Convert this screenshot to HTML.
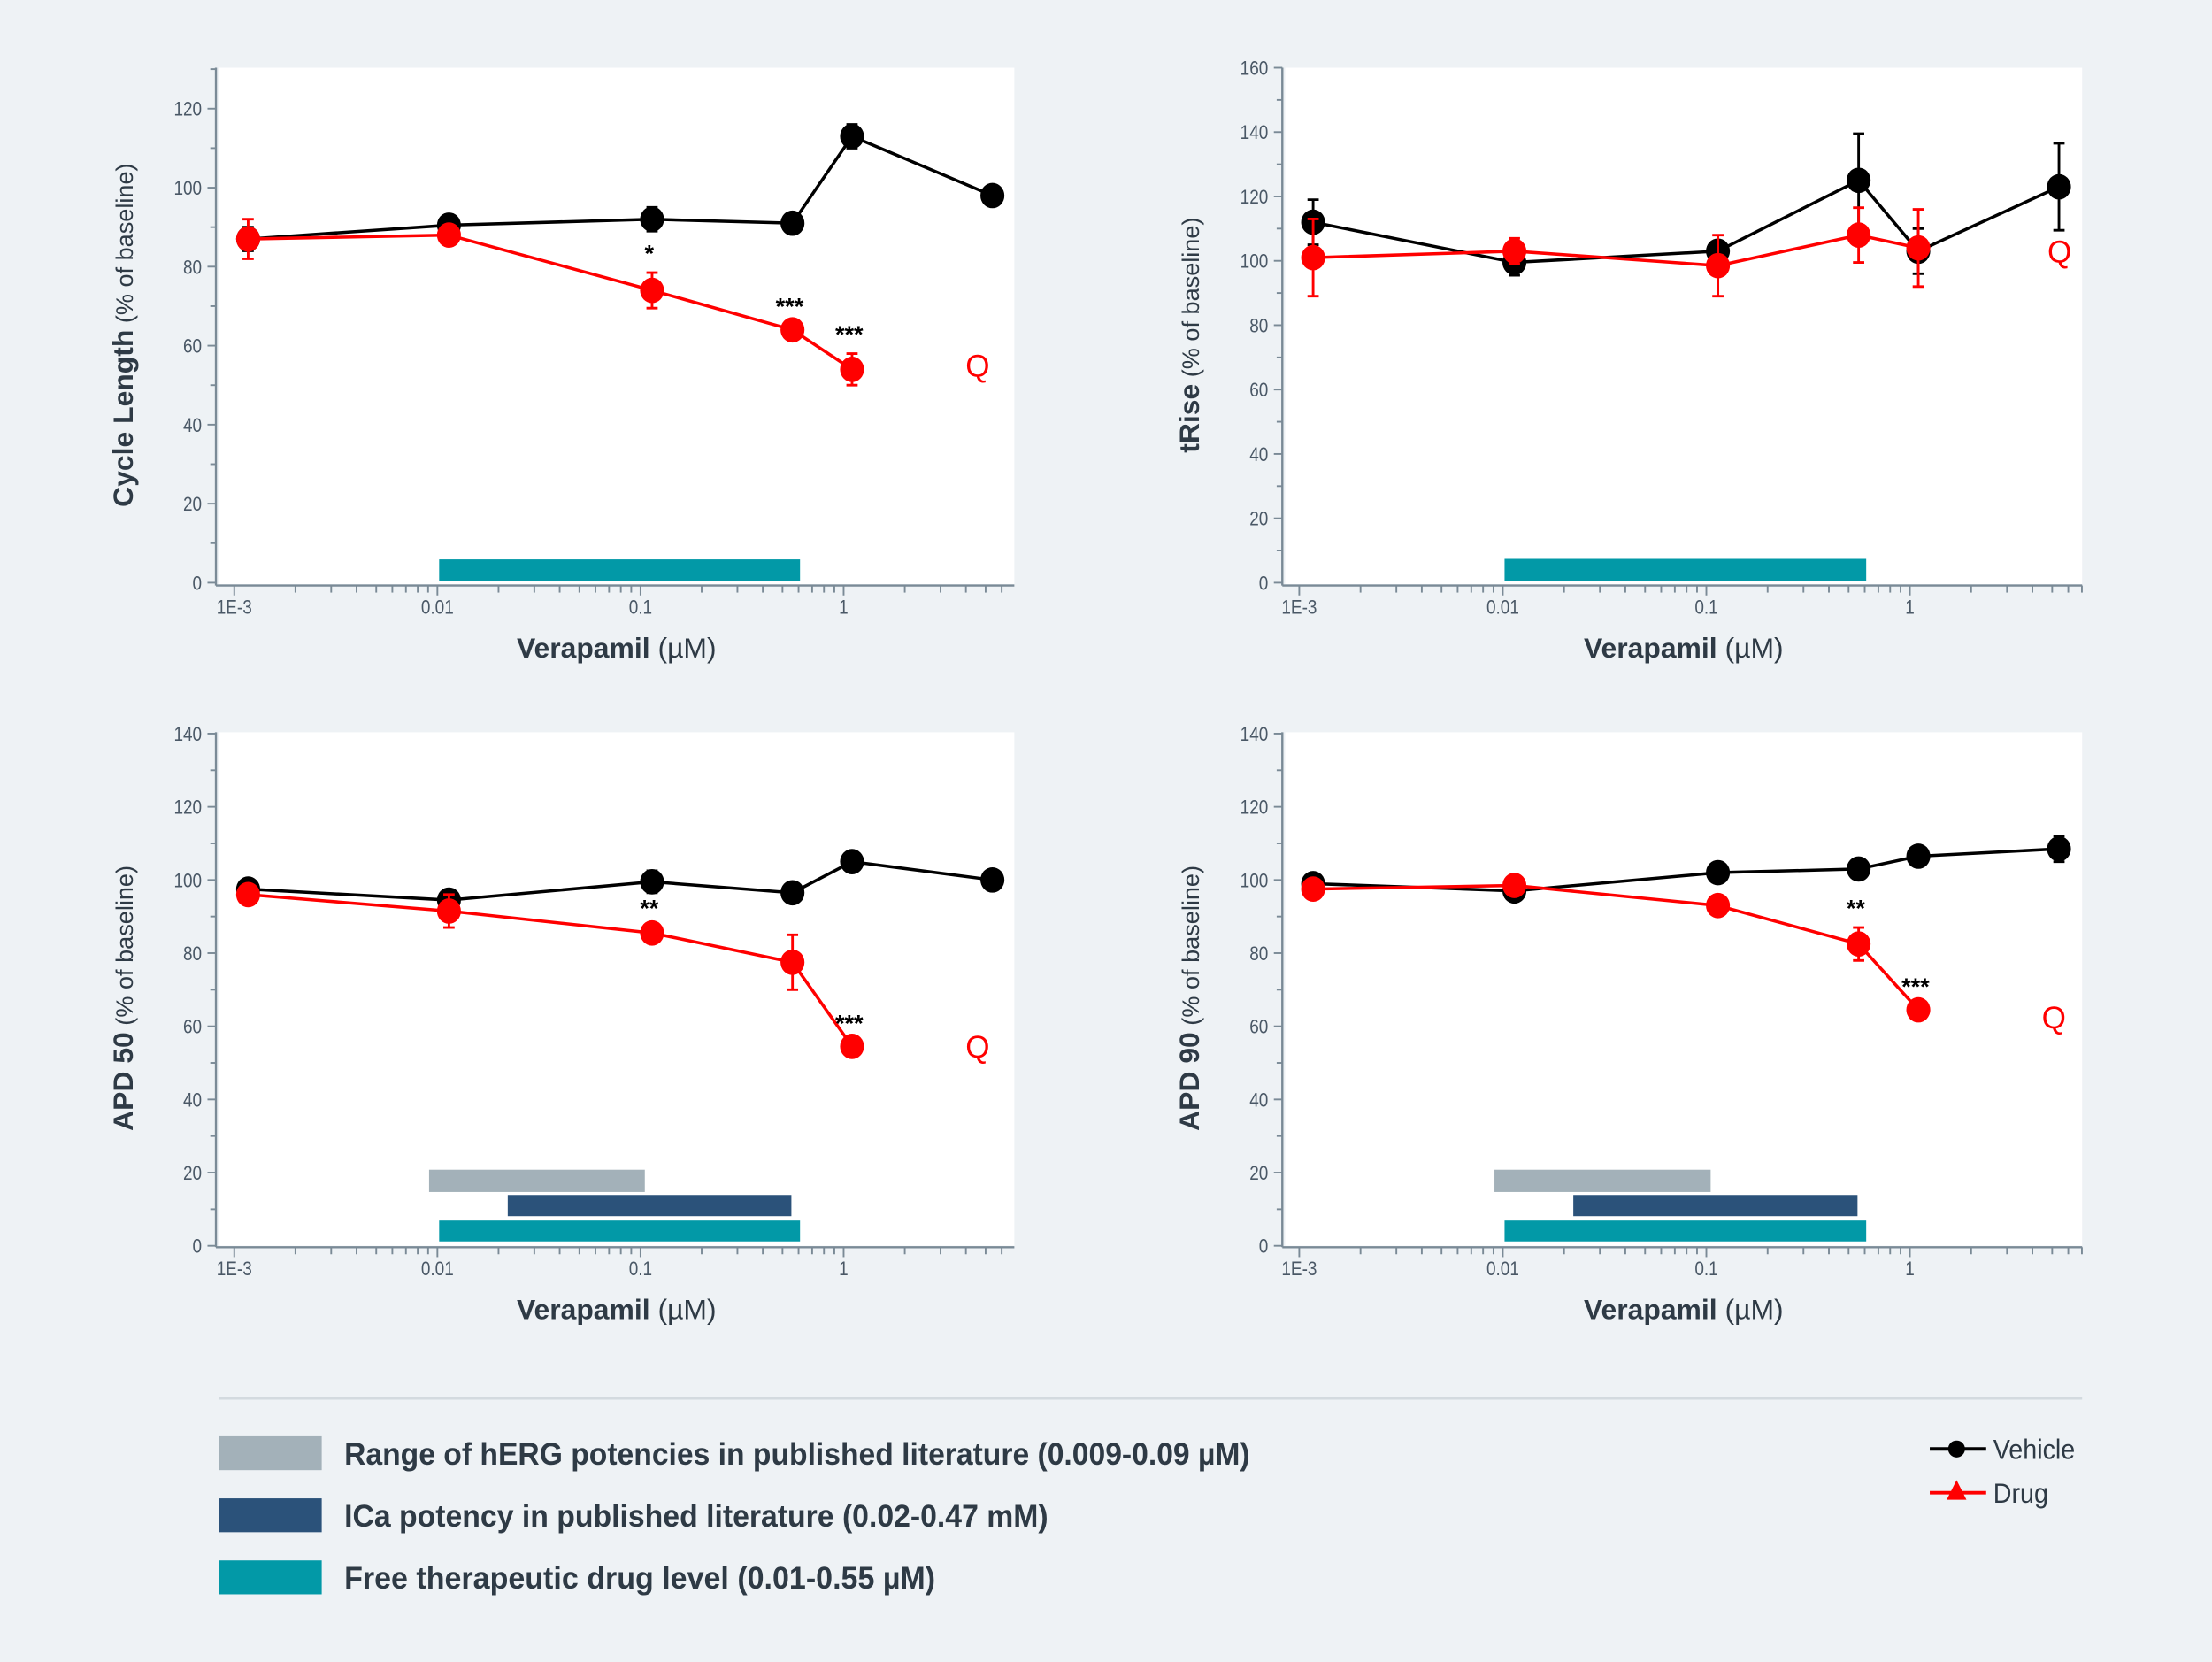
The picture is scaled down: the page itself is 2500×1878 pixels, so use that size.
<!DOCTYPE html>
<html><head><meta charset="utf-8"><style>
html,body{margin:0;padding:0;background:#eef2f5;}
svg{display:block;}
text{font-family:"Liberation Sans Narrow","Liberation Sans",sans-serif;}
</style></head>
<body>
<svg id="chart" width="2500" height="1878" viewBox="0 0 1568 1178" xmlns="http://www.w3.org/2000/svg">
<rect x="0" y="0" width="1568" height="1178" fill="#eef2f5"/>
<g id="panels"></g>
<g id="legend">
  <line x1="155" y1="991" x2="1476" y2="991" stroke="#d3dadf" stroke-width="2"/>
  <rect x="155" y="1018" width="73" height="24" fill="#a3b1b9"/>
  <text x="244" y="1038" font-size="22" font-weight="bold" fill="#2e3a45" textLength="642" lengthAdjust="spacingAndGlyphs">Range of hERG potencies in published literature (0.009-0.09 µM)</text>
  <rect x="155" y="1062" width="73" height="24" fill="#2b527a"/>
  <text x="244" y="1082" font-size="22" font-weight="bold" fill="#2e3a45" textLength="499" lengthAdjust="spacingAndGlyphs">ICa potency in published literature (0.02-0.47 mM)</text>
  <rect x="155" y="1106" width="73" height="24" fill="#0299a7"/>
  <text x="244" y="1126" font-size="22" font-weight="bold" fill="#2e3a45" textLength="419" lengthAdjust="spacingAndGlyphs">Free therapeutic drug level (0.01-0.55 µM)</text>
  <line x1="1368" y1="1027" x2="1408" y2="1027" stroke="#000" stroke-width="2.5"/>
  <circle cx="1387" cy="1027" r="6" fill="#000"/>
  <text x="1413" y="1034" font-size="20" fill="#2e3a45" textLength="58" lengthAdjust="spacingAndGlyphs">Vehicle</text>
  <line x1="1368" y1="1058" x2="1408" y2="1058" stroke="#ff0000" stroke-width="2.5"/>
  <polygon points="1387,1049 1394,1063 1380,1063" fill="#ff0000"/>
  <text x="1413" y="1065" font-size="20" fill="#2e3a45" textLength="39" lengthAdjust="spacingAndGlyphs">Drug</text>
</g>
</svg>
<script>
// concentrations (µM)
const concVehicle = [0.00117, 0.0114, 0.114, 0.56, 1.1, 5.4];
const concDrug = [0.00117, 0.0114, 0.114, 0.56, 1.1];
const xTickValues = [0.001, 0.01, 0.1, 1];
const xTickLabels = ["1E-3", "0.01", "0.1", "1"];

// Cycle length
const clVehicle = [87, 90.5, 92, 91, 113, 98];
const clVehicleErr = [3, 1, 3, 0.5, 3, 2.5];
const clDrug = [87, 88, 74, 64, 54];
const clDrugErr = [5, 1, 4.5, 1, 4];
const clStars = ["", "", "*", "***", "***"];

// tRise
const trVehicle = [112, 99.5, 103, 125, 103, 123];
const trVehicleErr = [7, 4, 2.5, 14.5, 7, 13.5];
const trDrug = [101, 103, 98.5, 108, 104];
const trDrugErr = [12, 4, 9.5, 8.5, 12];
const trStars = ["", "", "", "", ""];

// APD50
const a50Vehicle = [97.5, 94.5, 99.5, 96.5, 105, 100];
const a50VehicleErr = [1.5, 1, 3, 1, 1, 1];
const a50Drug = [96, 91.5, 85.5, 77.5, 54.5];
const a50DrugErr = [1.5, 4.5, 1.5, 7.5, 1];
const a50Stars = ["", "", "**", "", "***"];

// APD90
const a90Vehicle = [99, 97, 102, 103, 106.5, 108.5];
const a90VehicleErr = [1.5, 1, 1, 1, 1, 3.5];
const a90Drug = [97.5, 98.5, 93, 82.5, 64.5];
const a90DrugErr = [1, 1, 1, 4.5, 1];
const a90Stars = ["", "", "*", "**", "***"];

// range bars [from, to] µM
const hergRange = [0.0091, 0.105];
const icaRange = [0.0222, 0.553];
const freeRange = [0.0102, 0.61];
const qValues = [55, 103, 54.5, 62.5];

const NS = "http://www.w3.org/2000/svg";
function mk(parent, tag, attrs){ const e=document.createElementNS(NS,tag); for(const k in attrs) e.setAttribute(k,attrs[k]); parent.appendChild(e); return e; }

const panels = [
  {id:"cycle-length", L:153, R:719, T:48, B:415, x1e3:166, dec:144, y0:413, ymax:130.4, ymaxLabel:120, ppu:2.8, ystep:20, title:"Cycle Length", veh:clVehicle, vehE:clVehicleErr, drug:clDrug, drugE:clDrugErr, stars:clStars, q:qValues[0], qx:693, bars:[["free",freeRange,0.5,5.9]]},
  {id:"trise", L:909, R:1476, T:48, B:415, x1e3:921, dec:144.3, y0:413, ymax:160, ymaxLabel:160, ppu:2.2813, ystep:20, title:"tRise", veh:trVehicle, vehE:trVehicleErr, drug:trDrug, drugE:trDrugErr, stars:trStars, q:qValues[1], qx:1460, bars:[["free",freeRange,0.4,7.4]]},
  {id:"apd50", L:153, R:719, T:519, B:884, x1e3:166, dec:144, y0:883, ymax:140, ymaxLabel:140, ppu:2.593, ystep:20, title:"APD 50", veh:a50Vehicle, vehE:a50VehicleErr, drug:a50Drug, drugE:a50DrugErr, stars:a50Stars, q:qValues[2], qx:693, bars:[["herg",hergRange,14.7,20.8],["ica",icaRange,8.1,13.9],["free",freeRange,1.2,6.9]]},
  {id:"apd90", L:909, R:1476, T:519, B:884, x1e3:921, dec:144.3, y0:883, ymax:140, ymaxLabel:140, ppu:2.593, ystep:20, title:"APD 90", veh:a90Vehicle, vehE:a90VehicleErr, drug:a90Drug, drugE:a90DrugErr, stars:a90Stars, q:qValues[3], qx:1456, bars:[["herg",hergRange,14.7,20.8],["ica",icaRange,8.1,13.9],["free",freeRange,1.2,6.9]]}
];
const barColors = {herg:"#a3b1b9", ica:"#2b527a", free:"#0299a7"};
const AX = "#7a8a96";
const root = document.getElementById("panels");

panels.forEach(p=>{
  const xs = c => p.x1e3 + (Math.log10(c)+3)*p.dec;
  const xt = c => p.x1e3 + (Math.log10(c)+3)*p.dec;
  const ys = v => p.y0 - v*p.ppu;
  const g = mk(root,"g",{});
  
  
  const bg = mk(g,"rect",{x:p.L+2,y:p.T,width:p.R-p.L-2,height:p.B-p.T-1,fill:"#ffffff"});
  
  
  p.bars.forEach(b=>{
    const r = mk(g,"rect",{x:xt(b[1][0]),y:ys(b[3]),width:xt(b[1][1])-xt(b[1][0]),height:ys(b[2])-ys(b[3]),fill:barColors[b[0]]});
    
    
  });
  const ya = mk(g,"line",{x1:p.L,y1:p.T,x2:p.L,y2:p.B,stroke:AX,"stroke-width":1.5});
  
  
  const xa = mk(g,"line",{x1:p.L,y1:p.B,x2:p.R,y2:p.B,stroke:AX,"stroke-width":1.5});
  
  
  for(let v=0; v<=p.ymax+0.01; v+=p.ystep/2){
    const major = Math.round(v)%p.ystep===0;
    mk(g,"line",{x1:p.L-(major?6:4),y1:ys(v),x2:p.L,y2:ys(v),stroke:AX,"stroke-width":1.2});
    if(major && v<=p.ymaxLabel){
      const t = mk(g,"text",{x:p.L-10,y:ys(v)+5,"font-size":14,fill:"#4a5866","text-anchor":"end",transform:`translate(${(p.L-10)*0.15},0) scale(0.85,1)`});
      t.textContent = Math.round(v);
      
      
    }
  }
  for(let d=-3; d<=0; d++){
    for(let m=1; m<=9; m++){
      const c = m*Math.pow(10,d);
      const x = xt(c);
      if(x>p.R) break;
      mk(g,"line",{x1:x,y1:p.B,x2:x,y2:p.B+(m===1?7:5),stroke:AX,"stroke-width":1.2});
    }
  }
  xTickValues.forEach((c,i)=>{
    const x = xt(c);
    const t = mk(g,"text",{x:x,y:p.B+20,"font-size":14,fill:"#4a5866","text-anchor":"middle",transform:`translate(${x*0.15},0) scale(0.85,1)`});
    t.textContent = xTickLabels[i];
    
    
  });
  const cx = (p.L+p.R)/2;
  const xtit = mk(g,"text",{x:cx+1,y:p.B+51,"font-size":20,fill:"#2e3a45","text-anchor":"middle"});
  xtit.innerHTML = '<tspan font-weight="bold">Verapamil</tspan> (µM)';
  
  
  const yc = (p.T+p.B)/2 + 6;
  const ytit = mk(g,"text",{x:0,y:0,"font-size":19,fill:"#2e3a45","text-anchor":"middle",transform:`translate(${p.L-59},${yc}) rotate(-90)`});
  ytit.innerHTML = '<tspan font-weight="bold" font-family="Liberation Sans, sans-serif" font-size="20">'+p.title+'</tspan><tspan font-family="Liberation Sans, sans-serif" font-size="17">  (% of baseline)</tspan>';
  
  
  function series(conc, vals, errs, color, name){
    const pts = conc.map((c,i)=>xs(c)+","+ys(vals[i])).join(" ");
    const pl = mk(g,"polyline",{points:pts,fill:"none",stroke:color,"stroke-width":2.2});
    
    
    conc.forEach((c,i)=>{
      const x=xs(c), y1=ys(vals[i]+errs[i]), y2=ys(vals[i]-errs[i]);
      const eb = mk(g,"path",{d:`M${x},${y1}V${y2}M${x-4},${y1}H${x+4}M${x-4},${y2}H${x+4}`,stroke:color,"stroke-width":1.8,fill:"none"});
      
      
      const pt = mk(g,"ellipse",{cx:x,cy:ys(vals[i]),rx:8.5,ry:9,fill:color});
      
      
    });
  }
  series(concVehicle, p.veh, p.vehE, "#000000", "vehicle");
  series(concDrug, p.drug, p.drugE, "#ff0000", "drug");
  p.stars.forEach((s,i)=>{
    if(!s) return;
    const t = mk(g,"text",{x:xs(concDrug[i])-2,y:ys(p.drug[i]+p.drugE[i])-8,"font-size":17,"font-weight":"bold",fill:"#000","text-anchor":"middle","font-family":"Liberation Sans, sans-serif"});
    t.textContent = s;
    
    
  });
  const q = mk(g,"text",{x:p.qx,y:ys(p.q)+8,"font-size":22,fill:"#ff0000","text-anchor":"middle"});
  q.textContent = "Q";
  
  
});
</script>
</body></html>
